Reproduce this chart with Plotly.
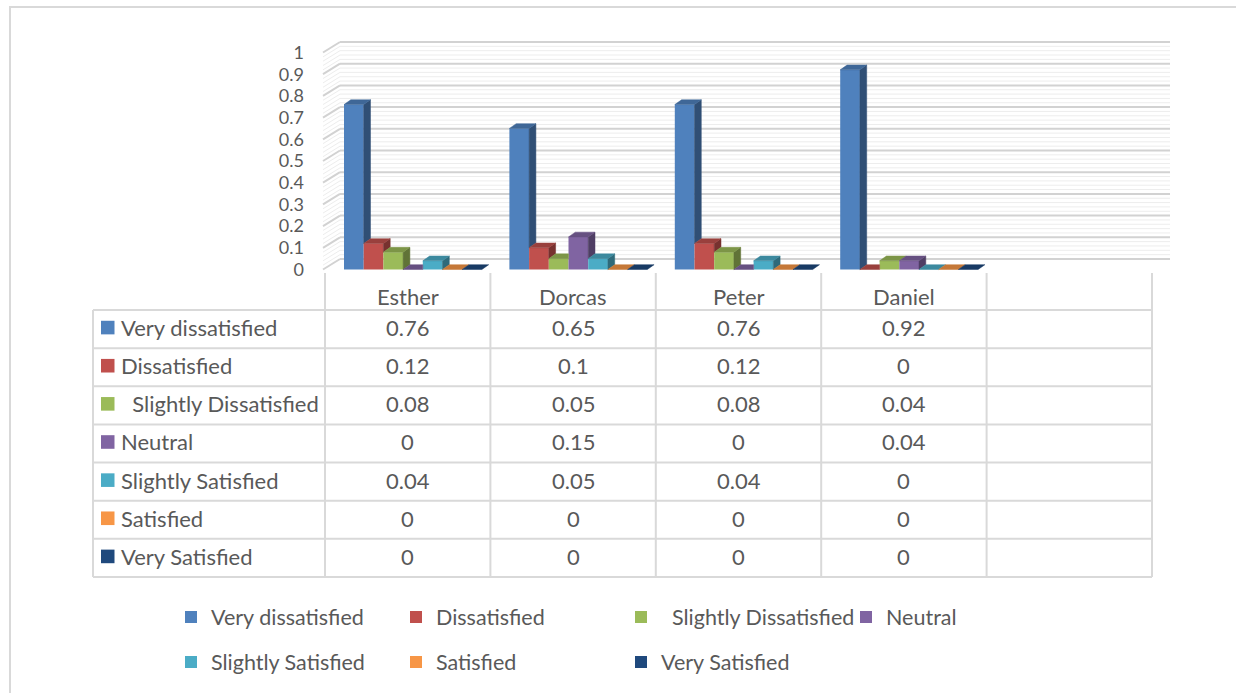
import plotly.graph_objects as go

# ---- data -------------------------------------------------------------
categories = ["Esther", "Dorcas", "Peter", "Daniel"]

series_names = [
    "Very dissatisfied",
    "Dissatisfied",
    "\u00a0\u00a0Slightly Dissatisfied",
    "Neutral",
    "Slightly Satisfied",
    "Satisfied",
    "Very Satisfied",
]

very_dissatisfied = [0.76, 0.65, 0.76, 0.92]
dissatisfied = [0.12, 0.1, 0.12, 0]
slightly_dissatisfied = [0.08, 0.05, 0.08, 0.04]
neutral = [0, 0.15, 0, 0.04]
slightly_satisfied = [0.04, 0.05, 0.04, 0]
satisfied = [0, 0, 0, 0]
very_satisfied = [0, 0, 0, 0]

series_values = [
    very_dissatisfied,
    dissatisfied,
    slightly_dissatisfied,
    neutral,
    slightly_satisfied,
    satisfied,
    very_satisfied,
]

series_colors = ["#4F81BD", "#C0504D", "#9BBB59", "#8064A2",
                 "#4BACC6", "#F79646", "#1F497D"]

y_tick_values = [0, 0.1, 0.2, 0.3, 0.4, 0.5, 0.6, 0.7, 0.8, 0.9, 1]
y_tick_labels = ["0", "0.1", "0.2", "0.3", "0.4", "0.5", "0.6", "0.7", "0.8", "0.9", "1"]

# ---- layout geometry (pixels) ----------------------------------------
W, H = 1236, 693
FONT = "Lato, 'Noto Sans', sans-serif"
TEXT = "#595959"
LINE = "#d9d9d9"
FS = 22          # table text
FS_LEGEND = 21.5 # legend text
FS_TICK = 18     # value axis labels

CAT_LEFT = 325.0      # left edge of first category column
CAT_W = 165.4         # width of one category column
N_COLS = 5            # four categories plus one empty column
ZERO_PX = 269.5       # value 0 on the bar plane
UNIT_PX = 217.0       # pixels per value unit
X_DOM_PX = (305.0, 1185.0)
Y_RANGE = (-0.05, 1.15)

BAR_GAP0 = 19.0       # gap from column edge to first bar
BAR_W = 19.7          # bar width
DEPTH_DX = 6.8 / CAT_W
DEPTH_DY = 4.8 / UNIT_PX

WALL_FRONT_PX = 323.0
WALL_BACK_PX = 340.0
WALL_RIGHT_PX = 1170.0
WALL_DY = 10.5 / UNIT_PX


def px2x(px):
    return (px - CAT_LEFT) / CAT_W


def xp(px):
    return px / W


def yp(py):
    return 1 - py / H


def shade(hex_color, f):
    h = hex_color.lstrip("#")
    r, g, b = (int(h[k:k + 2], 16) for k in (0, 2, 4))
    return "rgb(%d,%d,%d)" % (r * f, g * f, b * f)


x_range = [px2x(X_DOM_PX[0]), px2x(X_DOM_PX[1])]
y_dom = [yp(ZERO_PX - Y_RANGE[0] * UNIT_PX), yp(ZERO_PX - Y_RANGE[1] * UNIT_PX)]

fig = go.Figure()
shapes = []
annotations = []

# ---- back wall and side wall gridlines -------------------------------
x_wall_front = px2x(WALL_FRONT_PX)
x_wall_back = px2x(WALL_BACK_PX)
x_wall_right = px2x(WALL_RIGHT_PX)
for k in range(51):
    v = round(k * 0.02, 2)
    major = k % 5 == 0
    col = "#d2d2d2" if major else "#ededed"
    wid = 2 if major else 1
    shapes.append(dict(type="line", xref="x", yref="y", layer="below",
                       x0=x_wall_back, x1=x_wall_right, y0=v + WALL_DY, y1=v + WALL_DY,
                       line=dict(color=col, width=wid)))
    shapes.append(dict(type="line", xref="x", yref="y", layer="below",
                       x0=x_wall_front, x1=x_wall_back, y0=v, y1=v + WALL_DY,
                       line=dict(color=col, width=wid)))

# ---- bars: front faces -------------------------------------------------
bar_w = BAR_W / CAT_W
for j, (name, vals, col) in enumerate(zip(series_names, series_values, series_colors)):
    off = (BAR_GAP0 + j * BAR_W) / CAT_W
    fig.add_trace(go.Bar(
        x=list(range(len(categories))), y=vals, base=0,
        width=[bar_w] * len(categories), offset=off,
        marker=dict(color=col, line=dict(width=0)),
        name=name, hoverinfo="skip",
        legend="legend" if j < 4 else "legend2",
    ))

# ---- bars: side and top faces (drawn in order, each bar hides the one before)
for j, (vals, col) in enumerate(zip(series_values, series_colors)):
    off = (BAR_GAP0 + j * BAR_W) / CAT_W
    sx, sy, tx, ty = [], [], [], []
    for i, v in enumerate(vals):
        nxt = series_values[j + 1][i] if j + 1 < len(series_values) else None
        x0 = i + off
        x1 = x0 + bar_w
        lower = nxt if nxt is not None else 0
        if v > lower:
            sx += [x1, x1 + DEPTH_DX, x1 + DEPTH_DX, x1, x1, None]
            sy += [lower, lower + DEPTH_DY, v + DEPTH_DY, v, lower, None]
        right = x1 if (nxt is not None and nxt > v) else x1 + DEPTH_DX
        tx += [x0, x0 + DEPTH_DX, right, x1, x0, None]
        ty += [v, v + DEPTH_DY, v + DEPTH_DY, v, v, None]
    if sx:
        fig.add_trace(go.Scatter(x=sx, y=sy, mode="lines", fill="toself",
                                 fillcolor=shade(col, 0.62),
                                 line=dict(width=0.5, color=shade(col, 0.62)),
                                 hoverinfo="skip", showlegend=False))
    fig.add_trace(go.Scatter(x=tx, y=ty, mode="lines", fill="toself",
                             fillcolor=shade(col, 0.8),
                             line=dict(width=0.5, color=shade(col, 0.8)),
                             hoverinfo="skip", showlegend=False))

# ---- data table below the chart -----------------------------------------
TABLE_LEFT = 93.0
HEAD_TOP = 273.0
ROW_TOP = 310.0
ROW_H = 38.14
n_rows = len(series_names)
table_bottom = ROW_TOP + n_rows * ROW_H
col_edges = [CAT_LEFT + CAT_W * c for c in range(N_COLS + 1)]

for r in range(n_rows + 1):
    yy = ROW_TOP + r * ROW_H
    shapes.append(dict(type="line", xref="paper", yref="paper",
                       x0=xp(TABLE_LEFT), x1=xp(col_edges[-1]), y0=yp(yy), y1=yp(yy),
                       line=dict(color=LINE, width=2)))
shapes.append(dict(type="line", xref="paper", yref="paper",
                   x0=xp(TABLE_LEFT), x1=xp(TABLE_LEFT), y0=yp(ROW_TOP), y1=yp(table_bottom),
                   line=dict(color=LINE, width=2)))
for ex in col_edges:
    shapes.append(dict(type="line", xref="paper", yref="paper",
                       x0=xp(ex), x1=xp(ex), y0=yp(HEAD_TOP), y1=yp(table_bottom),
                       line=dict(color=LINE, width=2)))

for c, cat in enumerate(categories):
    cx = CAT_LEFT + CAT_W * (c + 0.5)
    annotations.append(dict(xref="paper", yref="paper", x=xp(cx), y=yp(296),
                            text=cat, showarrow=False, xanchor="center", yanchor="middle",
                            font=dict(family=FONT, size=FS, color=TEXT)))

for r, (name, vals, col) in enumerate(zip(series_names, series_values, series_colors)):
    cy = ROW_TOP + (r + 0.5) * ROW_H - 1.5
    shapes.append(dict(type="rect", xref="paper", yref="paper",
                       x0=xp(101), x1=xp(114.5), y0=yp(cy - 6.8), y1=yp(cy + 6.8),
                       fillcolor=col, line=dict(width=0)))
    annotations.append(dict(xref="paper", yref="paper", x=xp(119), y=yp(cy),
                            text=name, showarrow=False, xanchor="left", yanchor="middle",
                            font=dict(family=FONT, size=FS, color=TEXT)))
    for c, v in enumerate(vals):
        cx = CAT_LEFT + CAT_W * (c + 0.5)
        annotations.append(dict(xref="paper", yref="paper", x=xp(cx), y=yp(cy),
                                text=f"{v:g}", showarrow=False,
                                xanchor="center", yanchor="middle",
                                font=dict(family=FONT, size=FS, color=TEXT)))

# ---- outer chart frame -------------------------------------------------
shapes.append(dict(type="rect", xref="paper", yref="paper",
                   x0=xp(10), x1=xp(W + 10), y0=yp(7), y1=yp(H + 10),
                   line=dict(color="#d9d9d9", width=2), fillcolor="rgba(0,0,0,0)"))

legend_common = dict(orientation="h", xanchor="left", yanchor="middle",
                     x=xp(171), entrywidth=180, entrywidthmode="pixels",
                     font=dict(family=FONT, size=FS_LEGEND, color=TEXT),
                     bgcolor="rgba(0,0,0,0)", traceorder="normal")

fig.update_layout(
    width=W, height=H,
    margin=dict(l=0, r=0, t=0, b=0),
    paper_bgcolor="white", plot_bgcolor="rgba(0,0,0,0)",
    barmode="overlay",
    showlegend=True,
    legend=dict(legend_common, y=yp(617)),
    legend2=dict(legend_common, y=yp(662)),
    xaxis=dict(domain=[xp(X_DOM_PX[0]), xp(X_DOM_PX[1])], range=x_range,
               visible=False, fixedrange=True),
    yaxis=dict(domain=y_dom, range=list(Y_RANGE), tickvals=y_tick_values,
               ticktext=y_tick_labels, showgrid=False, zeroline=False,
               showline=False, ticks="", fixedrange=True,
               tickfont=dict(family=FONT, size=FS_TICK, color=TEXT)),
    shapes=shapes,
    annotations=annotations,
    font=dict(family=FONT, color=TEXT),
)

fig.write_html("out.html")
